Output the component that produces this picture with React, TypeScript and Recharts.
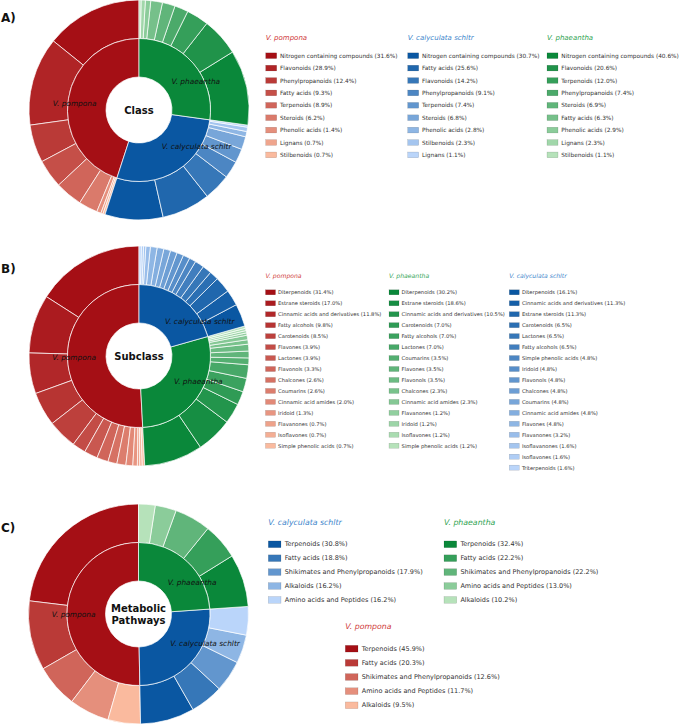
import React from 'react';
import { PieChart, Pie, Cell } from 'recharts';

const FONT = '"DejaVu Sans", Verdana, sans-serif';

// Species names
const POMPONA = 'V. pompona';
const CALYCULATA = 'V. calyculata schltr';
const PHAEANTHA = 'V. phaeantha';

// ---------- A) Class (% within each species) ----------
const classPomponaNames = ['Nitrogen containing compounds', 'Flavonoids', 'Phenylpropanoids', 'Fatty acids', 'Terpenoids', 'Steroids', 'Phenolic acids', 'Lignans', 'Stilbenoids'];
const classPomponaPct = [31.6, 28.9, 12.4, 9.3, 8.9, 6.2, 1.4, 0.7, 0.7];
const classCalyculataNames = ['Nitrogen containing compounds', 'Fatty acids', 'Flavonoids', 'Phenylpropanoids', 'Terpenoids', 'Steroids', 'Phenolic acids', 'Stilbenoids', 'Lignans'];
const classCalyculataPct = [30.7, 25.6, 14.2, 9.1, 7.4, 6.8, 2.8, 2.3, 1.1];
const classPhaeanthaNames = ['Nitrogen containing compounds', 'Flavonoids', 'Terpenoids', 'Phenylpropanoids', 'Steroids', 'Fatty acids', 'Phenolic acids', 'Lignans', 'Stilbenoids'];
const classPhaeanthaPct = [40.6, 20.6, 12.0, 7.4, 6.9, 6.3, 2.9, 2.3, 1.1];
// inner ring share: pompona, calyculata, phaeantha
const classSpeciesShare = [45.0, 27.8, 27.2];

// ---------- B) Subclass ----------
const subPomponaNames = ['Diterpenoids', 'Estrane steroids', 'Cinnamic acids and derivatives', 'Fatty alcohols', 'Carotenoids', 'Flavones', 'Lactones', 'Flavonols', 'Chalcones', 'Coumarins', 'Cinnamic acid amides', 'Iridoid', 'Flavanones', 'Isoflavones', 'Simple phenolic acids'];
const subPomponaPct = [31.4, 17.0, 11.8, 9.8, 8.5, 3.9, 3.9, 3.3, 2.6, 2.6, 2.0, 1.3, 0.7, 0.7, 0.7];
const subPhaeanthaNames = ['Diterpenoids', 'Estrane steroids', 'Cinnamic acids and derivatives', 'Carotenoids', 'Fatty alcohols', 'Lactones', 'Coumarins', 'Flavones', 'Flavonols', 'Chalcones', 'Cinnamic acid amides', 'Flavanones', 'Iridoid', 'Isoflavones', 'Simple phenolic acids'];
const subPhaeanthaPct = [30.2, 18.6, 10.5, 7.0, 7.0, 7.0, 3.5, 3.5, 3.5, 2.3, 2.3, 1.2, 1.2, 1.2, 1.2];
const subCalyculataNames = ['Diterpenoids', 'Cinnamic acids and derivatives', 'Estrane steroids', 'Carotenoids', 'Lactones', 'Fatty alcohols', 'Simple phenolic acids', 'Iridoid', 'Flavonols', 'Chalcones', 'Coumarins', 'Cinnamic acid amides', 'Flavones', 'Flavanones', 'Isoflavanones', 'Isoflavones', 'Triterpenoids'];
const subCalyculataPct = [16.1, 11.3, 11.3, 6.5, 6.5, 6.5, 4.8, 4.8, 4.8, 4.8, 4.8, 4.8, 4.8, 3.2, 1.6, 1.6, 1.6];
// inner ring share: pompona, phaeantha, calyculata (compound counts)
const subSpeciesShare = [153, 86, 62];

// ---------- C) Metabolic pathways ----------
const pathPomponaNames = ['Terpenoids', 'Fatty acids', 'Shikimates and Phenylpropanoids', 'Amino acids and Peptides', 'Alkaloids'];
const pathPomponaPct = [45.9, 20.3, 12.6, 11.7, 9.5];
const pathCalyculataNames = ['Terpenoids', 'Fatty acids', 'Shikimates and Phenylpropanoids', 'Alkaloids', 'Amino acids and Peptides'];
const pathCalyculataPct = [30.8, 18.8, 17.9, 16.2, 16.2];
const pathPhaeanthaNames = ['Terpenoids', 'Fatty acids', 'Shikimates and Phenylpropanoids', 'Amino acids and Peptides', 'Alkaloids'];
const pathPhaeanthaPct = [32.4, 22.2, 22.2, 13.0, 10.2];
// inner ring share: pompona, calyculata, phaeantha
const pathSpeciesShare = [50.3, 25.8, 23.9];

// ---------- colours ----------
type Ramp = { dark: number[]; light: number[]; title: string };
const RED: Ramp = { dark: [165, 15, 21], light: [250, 186, 158], title: '#cf3a3a' };
const BLUE: Ramp = { dark: [10, 87, 162], light: [186, 213, 250], title: '#3d85cb' };
const GREEN: Ramp = { dark: [10, 136, 58], light: [182, 226, 186], title: '#2fa352' };

const rgb = (c: number[]) => `rgb(${c.map((v) => Math.round(v)).join(',')})`;
const shade = (ramp: Ramp, i: number, n: number) => {
  const t = n > 1 ? i / (n - 1) : 0;
  return rgb(ramp.dark.map((d, k) => d + (ramp.light[k] - d) * t));
};

type Item = { name: string; pct: number; value: number; fill: string };
const ring = (names: string[], pct: number[], share: number, ramp: Ramp): Item[] => {
  const total = pct.reduce((a, b) => a + b, 0);
  return names.map((name, i) => ({ name, pct: pct[i], value: (share * pct[i]) / total, fill: shade(ramp, i, names.length) }));
};

type Group = { species: string; ramp: Ramp; items: Item[]; share: number };
const group = (species: string, ramp: Ramp, names: string[], pct: number[], share: number): Group => ({
  species, ramp, share, items: ring(names, pct, share, ramp),
});

// Ring order (counter-clockwise from 12 o'clock)
const classGroups = [
  group(POMPONA, RED, classPomponaNames, classPomponaPct, classSpeciesShare[0]),
  group(CALYCULATA, BLUE, classCalyculataNames, classCalyculataPct, classSpeciesShare[1]),
  group(PHAEANTHA, GREEN, classPhaeanthaNames, classPhaeanthaPct, classSpeciesShare[2]),
];
const subGroups = [
  group(POMPONA, RED, subPomponaNames, subPomponaPct, subSpeciesShare[0]),
  group(PHAEANTHA, GREEN, subPhaeanthaNames, subPhaeanthaPct, subSpeciesShare[1]),
  group(CALYCULATA, BLUE, subCalyculataNames, subCalyculataPct, subSpeciesShare[2]),
];
const pathGroups = [
  group(POMPONA, RED, pathPomponaNames, pathPomponaPct, pathSpeciesShare[0]),
  group(CALYCULATA, BLUE, pathCalyculataNames, pathCalyculataPct, pathSpeciesShare[1]),
  group(PHAEANTHA, GREEN, pathPhaeanthaNames, pathPhaeanthaPct, pathSpeciesShare[2]),
];

const HOLE = 33;
const MID = 71.5;
const OUTER = 110;
const RAD = Math.PI / 180;

const speciesLabel = (fontSize: number) => (props: any) => {
  const { cx, cy, midAngle } = props;
  const name = props.payload?.name ?? props.name;
  const r = 43;
  const x = cx + r * Math.cos(-midAngle * RAD);
  const y = cy + r * Math.sin(-midAngle * RAD);
  return (
    <text x={x} y={y} textAnchor={x >= cx ? 'start' : 'end'} dominantBaseline="central"
      fontStyle="italic" fontSize={fontSize} fill="#111" fontFamily={FONT}>
      {name}
    </text>
  );
};

const sunburst = (key: string, groups: Group[], cx: number, cy: number, labelSize: number) => {
  const inner = groups.map((g) => ({ name: g.species, value: g.share, fill: rgb(g.ramp.dark) }));
  const outer = groups.flatMap((g) => g.items);
  return [
    <Pie key={key + '-outer'} data={outer} dataKey="value" nameKey="name" cx={cx} cy={cy}
      innerRadius={MID} outerRadius={OUTER} startAngle={90} endAngle={450}
      isAnimationActive={false} stroke="#fff" strokeWidth={0.7}>
      {outer.map((d, i) => <Cell key={i} fill={d.fill} stroke="#fff" strokeWidth={0.7} />)}
    </Pie>,
    <Pie key={key + '-inner'} data={inner} dataKey="value" nameKey="name" cx={cx} cy={cy}
      innerRadius={HOLE} outerRadius={MID} startAngle={90} endAngle={450}
      isAnimationActive={false} stroke="#fff" strokeWidth={0.7}
      label={speciesLabel(labelSize)} labelLine={false}>
      {inner.map((d, i) => <Cell key={i} fill={d.fill} stroke="#fff" strokeWidth={0.7} />)}
    </Pie>,
  ];
};

type LegendProps = {
  g: Group; x: number; titleY: number; rowY: number; step: number;
  pw: number; ph: number; gap: number; fs: number; tfs: number;
};
const LegendColumn = ({ g, x, titleY, rowY, step, pw, ph, gap, fs, tfs }: LegendProps) => (
  <g fontFamily={FONT}>
    <text x={x} y={titleY} dominantBaseline="central" fontStyle="italic" fontSize={tfs} fill={g.ramp.title}>
      {g.species}
    </text>
    {g.items.map((it, i) => (
      <g key={i}>
        <rect x={x} y={rowY + i * step - ph / 2} width={pw} height={ph} fill={it.fill}
          stroke="rgba(0,0,0,0.25)" strokeWidth={0.4} />
        <text x={x + pw + gap} y={rowY + i * step} dominantBaseline="central" fontSize={fs} fill="#333">
          {`${it.name} (${it.pct.toFixed(1)}%)`}
        </text>
      </g>
    ))}
  </g>
);

const A = { cx: 139, cy: 110 };
const B = { cx: 139, cy: 356 };
const C = { cx: 138.5, cy: 614 };

export default function App() {
  return (
    <div style={{ position: 'absolute', left: 0, top: 0, width: 685, height: 726, background: '#fff', overflow: 'hidden' }}>
      <PieChart width={685} height={726} margin={{ top: 0, right: 0, bottom: 0, left: 0 }}>
        {sunburst('a', classGroups, A.cx, A.cy, 7.4)}
        {sunburst('b', subGroups, B.cx, B.cy, 7.4)}
        {sunburst('c', pathGroups, C.cx, C.cy, 7.4)}
      </PieChart>
      <svg width={685} height={726} style={{ position: 'absolute', left: 0, top: 0, pointerEvents: 'none' }}>
        <g fontFamily={FONT} fontWeight="bold" fill="#111">
          <text x={1} y={18} fontSize={12} dominantBaseline="central">A)</text>
          <text x={1} y={269} fontSize={12} dominantBaseline="central">B)</text>
          <text x={1} y={527.5} fontSize={12} dominantBaseline="central">C)</text>
          <text x={A.cx} y={A.cy} fontSize={10} textAnchor="middle" dominantBaseline="central">Class</text>
          <text x={B.cx} y={B.cy} fontSize={10} textAnchor="middle" dominantBaseline="central">Subclass</text>
          <text x={C.cx} y={C.cy - 6} fontSize={10} textAnchor="middle" dominantBaseline="central">Metabolic</text>
          <text x={C.cx} y={C.cy + 6} fontSize={10} textAnchor="middle" dominantBaseline="central">Pathways</text>
        </g>

        {/* A legends */}
        <LegendColumn g={classGroups[0]} x={265.7} titleY={37.7} rowY={55.7} step={12.4} pw={11} ph={5.7} gap={3.3} fs={5.8} tfs={7} />
        <LegendColumn g={classGroups[1]} x={407.7} titleY={37.7} rowY={55.7} step={12.4} pw={11} ph={5.7} gap={3.3} fs={5.8} tfs={7} />
        <LegendColumn g={classGroups[2]} x={547} titleY={37.7} rowY={55.7} step={12.4} pw={11} ph={5.7} gap={3.3} fs={5.8} tfs={7} />

        {/* B legends */}
        <LegendColumn g={subGroups[0]} x={265.5} titleY={275} rowY={292.3} step={10.96} pw={10} ph={5} gap={2.6} fs={5.2} tfs={6.1} />
        <LegendColumn g={subGroups[1]} x={389} titleY={275} rowY={292.3} step={10.96} pw={10} ph={5} gap={2.6} fs={5.2} tfs={6.1} />
        <LegendColumn g={subGroups[2]} x={509.3} titleY={275} rowY={292.3} step={10.96} pw={10} ph={5} gap={2.6} fs={5.2} tfs={6.1} />

        {/* C legends */}
        <LegendColumn g={pathGroups[1]} x={268.3} titleY={522.7} rowY={544.3} step={13.9} pw={12.7} ph={6.7} gap={3.7} fs={6.5} tfs={7.8} />
        <LegendColumn g={pathGroups[2]} x={444} titleY={522.7} rowY={544.3} step={13.9} pw={12.7} ph={6.7} gap={3.7} fs={6.5} tfs={7.8} />
        <LegendColumn g={pathGroups[0]} x={345.3} titleY={626.3} rowY={648.7} step={14.15} pw={12.7} ph={6.7} gap={3.7} fs={6.5} tfs={7.8} />
      </svg>
    </div>
  );
}
